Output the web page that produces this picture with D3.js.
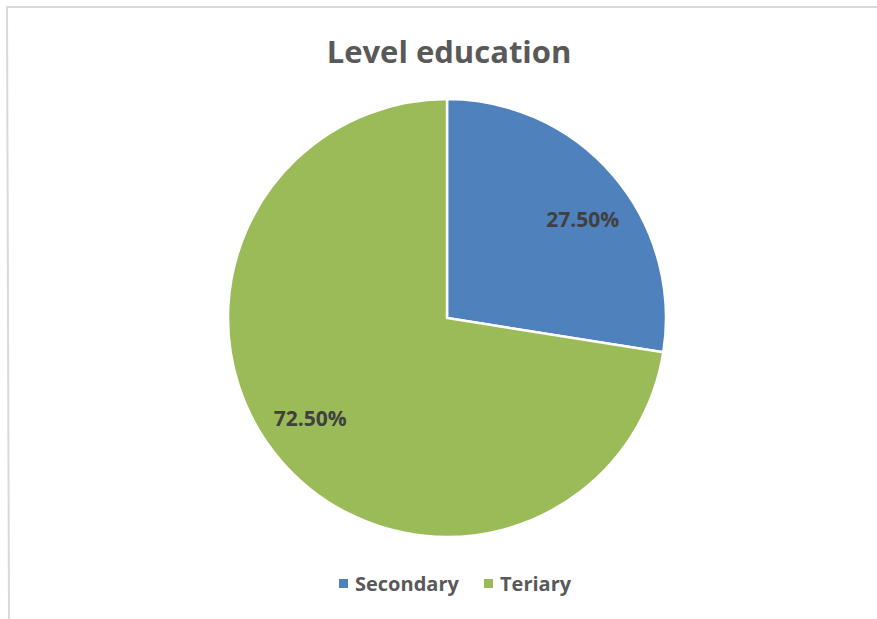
<!DOCTYPE html>
<html><head><meta charset="utf-8">
<script src="https://cdn.jsdelivr.net/npm/d3@7"></script>
<style>body{margin:0;background:#fff}svg{display:block}</style>
</head><body>
<svg id="c" width="877" height="619"></svg>
<script>
const categories = ["Secondary", "Teriary"];
const values = [27.5, 72.5];
const labels = ["27.50%", "72.50%"];
const colors = ["#4F81BD", "#9BBB59"];

const svg = d3.select("#c");
const font = "'Open Sans', 'Noto Sans', sans-serif";

// chart border (top and left edges visible)
svg.append("line").attr("x1",6).attr("y1",7).attr("x2",877).attr("y2",7).attr("stroke","#d9d9d9").attr("stroke-width",2);
svg.append("line").attr("x1",7).attr("y1",7).attr("x2",9).attr("y2",619).attr("stroke","#d9d9d9").attr("stroke-width",2);

svg.append("text").attr("x",449).attr("y",63).attr("text-anchor","middle")
  .attr("font-family",font).attr("font-weight","bold").attr("font-size",31)
  .attr("fill","#595959").text("Level education");

const cx = 447, cy = 318, r = 219;
const pie = d3.pie().sort(null).value(d => d);
const arcs = pie(values);
const arc = d3.arc().innerRadius(0).outerRadius(r);
const labelArc = d3.arc().innerRadius(168).outerRadius(168);
const labelNudge = [[8, 11], [-9, -8]];
const g = svg.append("g").attr("transform",`translate(${cx},${cy})`);
g.selectAll("path").data(arcs).join("path")
  .attr("d",arc).attr("fill",(d,i)=>colors[i])
  .attr("stroke","#fff").attr("stroke-width",2.5);
g.selectAll("text").data(arcs).join("text")
  .attr("transform",(d,i)=>{const c=labelArc.centroid(d); return `translate(${c[0]+labelNudge[i][0]},${c[1]+labelNudge[i][1]})`;})
  .attr("text-anchor","middle").attr("dy","0.35em")
  .attr("font-family",font).attr("font-weight","bold").attr("font-size",21)
  .attr("fill","#404040").text((d,i)=>labels[i]);

// legend
const legX = [339, 484];
const lg = svg.append("g");
categories.forEach((c,i)=>{
  lg.append("rect").attr("x",legX[i]).attr("y",579).attr("width",9).attr("height",9).attr("fill",colors[i]);
  lg.append("text").attr("x",legX[i]+16).attr("y",591)
    .attr("font-family",font).attr("font-weight","bold").attr("font-size",20)
    .attr("fill","#595959").text(c);
});
</script>
</body></html>
